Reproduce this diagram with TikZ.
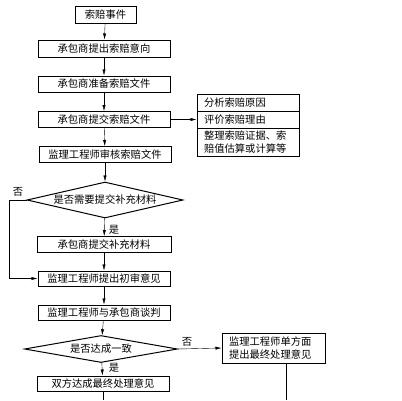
\documentclass[tikz,border=0pt]{standalone}
\usepackage{fontspec}
\setmainfont{Noto Sans CJK SC}
\usetikzlibrary{positioning,calc,arrows.meta,shapes.geometric}
\tikzset{font=\fontsize{10.3}{12.5}\selectfont}

\begin{document}
\begin{tikzpicture}[x=1pt,y=-1pt,>={Latex[length=6pt,width=3.2pt]}]
	\useasboundingbox (0,0) rectangle (402,400);
	\begin{scope}
		\tikzstyle{every node}=[align=center, inner sep=1pt]
		\tikzstyle{box}=[draw, line width=1pt, minimum width=132pt, minimum height=16pt]
		\tikzstyle{ask}=[draw, diamond, line width=1pt, inner sep=0pt]
		\tikzstyle{rbox}=[draw, line width=1pt, text width=88pt, align=left, inner xsep=7pt, inner ysep=2pt]
		\node[box, minimum width=61pt, minimum height=17pt] (evt) at (105.5, 14.5) {索赔事件};
		\node[box, minimum height=17pt] (intent) at (104, 48.5) {承包商提出索赔意向};
		\node[box] (prep) at (104, 84) {承包商准备索赔文件};
		\node[box] (submit) at (104, 119.5) {承包商提交索赔文件};
		\node[box] (audit) at (105, 154.5) {监理工程师审核索赔文件};
		\node[ask, aspect=4.3, minimum width=156pt, minimum height=36pt] (need) at (105, 200) {是否需要提交补充材料};
		\node[box, minimum width=134pt] (extra) at (104, 244.5) {承包商提交补充材料};
		\node[box, minimum height=15pt] (first) at (104, 278.5) {监理工程师提出初审意见};
		\node[box, minimum height=15pt] (talk) at (104, 312.5) {监理工程师与承包商谈判};
		\node[ask, aspect=5.6, minimum width=153pt, minimum height=27pt] (agree) at (101, 349) {是否达成一致};
		\node[box, minimum height=15pt] (final) at (103, 383.5) {双方达成最终处理意见};

		\node[rbox, minimum height=17pt] (why1) at (248, 102.5) {分析索赔原因};
		\node[rbox, minimum height=17pt] (why2) at (248, 119.5) {评价索赔理由};
		\node[rbox, minimum height=28pt] (why3) at (248, 142) {整理索赔证据、索\\赔值估算或计算等};
		\node[rbox, text width=89pt, minimum height=30pt] (one) at (273.5, 348) {监理工程师单方面\\提出最终处理意见};

		\node (no1) at (18, 192) {否};
		\node (yes1) at (114, 230) {是};
		\node (no2) at (187, 342) {否};
		\node (yes2) at (114, 368) {是};

		\coordinate (bend) at (9, 200);
		\coordinate (endc) at (103, 400);
		\coordinate (endr) at (286, 400);

		\draw[->] (evt) -- (intent);
		\draw[->] (intent) -- (prep);
		\draw[->] (prep) -- (submit);
		\draw[->] (submit) -- (audit);
		\draw[->] (submit) -- (why2.west);
		\draw[->] (audit) -- (need);
		\draw[->] (need) -- (extra);
		\draw[->] (need.west) -- (bend) |- (first.west);
		\draw[->] (extra) -- (first);
		\draw[->] (first) -- (talk);
		\draw[->] (talk) -- (agree);
		\draw[->] (agree) -- (final);
		\draw[->] (agree.east) -- (one.west);
		\draw (final) -- (endc);
		\draw (one.south -| endr) -- (endr);
	\end{scope}
\end{tikzpicture}
\end{document}
